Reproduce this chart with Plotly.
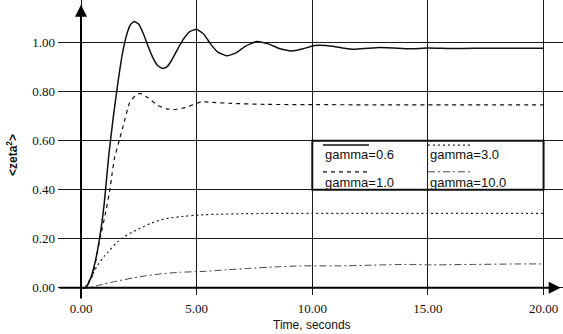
import plotly.graph_objects as go

# ---- data ----
t_g06 = [0.0, 0.2, 0.4, 0.6, 0.8, 1.0, 1.2, 1.4, 1.6, 1.8, 2.0, 2.15, 2.3, 2.5, 2.7, 2.9, 3.1, 3.3, 3.5,
         3.7, 3.9, 4.1, 4.4, 4.7, 5.0, 5.3, 5.6, 5.9, 6.3, 6.7, 7.1, 7.6, 8.1, 8.6, 9.1, 9.6, 10.1,
         10.6, 11.2, 11.8, 12.4, 12.9, 13.5, 14.2, 15.0, 16.0, 17.0, 18.0, 19.0, 20.0]
z_g06 = [0.0, 0.0, 0.035, 0.1, 0.2, 0.34, 0.54, 0.70, 0.84, 0.96, 1.04, 1.075, 1.086, 1.075, 1.035,
         0.985, 0.94, 0.908, 0.895, 0.9, 0.925, 0.96, 1.01, 1.045, 1.055, 1.035, 0.995, 0.962, 0.946,
         0.958, 0.985, 1.005, 0.995, 0.975, 0.966, 0.975, 0.988, 0.988, 0.98, 0.973, 0.977, 0.98,
         0.978, 0.975, 0.978, 0.976, 0.977, 0.977, 0.977, 0.977]

t_g10 = [0.0, 0.2, 0.5, 0.82, 1.05, 1.25, 1.35, 1.45, 1.65, 1.85, 2.1, 2.35, 2.55, 2.9, 3.3, 3.7, 4.0,
         4.5, 5.0, 5.2, 5.6, 6.5, 8.0, 10.0, 13.0, 16.0, 20.0]
z_g10 = [0.0, 0.0, 0.05, 0.2, 0.3, 0.4, 0.47, 0.53, 0.6, 0.67, 0.755, 0.784, 0.793, 0.775, 0.745, 0.73,
         0.727, 0.735, 0.752, 0.759, 0.757, 0.752, 0.748, 0.747, 0.746, 0.746, 0.746]

t_g30 = [0.0, 0.15, 0.4, 0.68, 1.0, 1.25, 1.5, 1.8, 2.2, 2.55, 3.0, 3.42, 3.8, 4.28, 5.15, 6.0, 7.0, 8.0,
         10.0, 12.0, 15.0, 20.0]
z_g30 = [0.0, 0.0, 0.035, 0.086, 0.128, 0.154, 0.18, 0.204, 0.226, 0.242, 0.262, 0.276, 0.284, 0.29,
         0.297, 0.3, 0.302, 0.303, 0.303, 0.303, 0.303, 0.303]

t_g100 = [0.0, 0.3, 0.82, 1.5, 2.55, 3.5, 4.28, 5.43, 6.3, 7.3, 8.4, 9.47, 11.2, 12.6, 14.1, 15.2, 17.0,
          19.0, 20.0]
z_g100 = [0.0, 0.0, 0.011, 0.026, 0.045, 0.057, 0.063, 0.067, 0.073, 0.079, 0.085, 0.089, 0.089, 0.092,
          0.095, 0.093, 0.095, 0.097, 0.097]

x_ticks = [0, 5, 10, 15, 20]
x_tick_text = ["0.00", "5.00", "10.00", "15.00", "20.00"]
y_ticks = [0.0, 0.2, 0.4, 0.6, 0.8, 1.0]
y_tick_text = ["0.00", "0.20", "0.40", "0.60", "0.80", "1.00"]
legend_names = ["gamma=0.6", "gamma=1.0", "gamma=3.0", "gamma=10.0"]

fig = go.Figure()
series = [
    (t_g06, z_g06, dict(color="#111", width=1.5, dash="solid")),
    (t_g10, z_g10, dict(color="#111", width=1.2, dash="4px,4px")),
    (t_g30, z_g30, dict(color="#222", width=1.2, dash="2px,3px")),
    (t_g100, z_g100, dict(color="#444", width=1.0, dash="7px,3px,2px,3px")),
]
for (tx, zy, ln), nm in zip(series, legend_names):
    fig.add_trace(go.Scatter(x=tx, y=zy, mode="lines", name=nm, showlegend=False,
                             line=dict(shape="spline", smoothing=0.4, **ln)))

grid_col = "#1a1a1a"
fig.update_layout(
    width=563, height=334,
    margin=dict(l=58, r=0, t=0, b=39),
    plot_bgcolor="white", paper_bgcolor="white",
    xaxis=dict(range=[-0.995, 20.84], tickvals=x_ticks, ticktext=x_tick_text,
               showgrid=True, gridcolor=grid_col, gridwidth=1, zeroline=False, showline=False,
               ticks="", ticklabelstandoff=4,
               tickfont=dict(family="Liberation Serif", size=13, color="#111")),
    yaxis=dict(range=[-0.0298, 1.174], tickvals=y_ticks, ticktext=y_tick_text,
               showgrid=True, gridcolor=grid_col, gridwidth=1, zeroline=False, showline=False,
               ticks="", ticklabelstandoff=2,
               tickfont=dict(family="Liberation Serif", size=13, color="#111")),
)

# legend box (grid cell) and samples
fig.add_shape(type="rect", x0=10, x1=20, y0=0.4, y1=0.6, xref="x", yref="y",
              line=dict(color="#111", width=2))
samples = [
    (10.46, 12.45, 0.582, series[0][2]),
    (10.46, 12.45, 0.473, series[1][2]),
    (15.0, 16.95, 0.582, series[2][2]),
    (15.0, 16.95, 0.473, series[3][2]),
]
text_pos = [(10.46, 0.542), (10.46, 0.43), (15.0, 0.542), (15.0, 0.43)]
for (x0, x1, yy, ln), (tx, ty), nm in zip(samples, text_pos, legend_names):
    fig.add_shape(type="line", x0=x0, x1=x1, y0=yy, y1=yy, xref="x", yref="y",
                  line=dict(color=ln["color"], width=ln["width"], dash=ln["dash"]))
    fig.add_annotation(x=tx, y=ty, xref="x", yref="y", text=nm, showarrow=False,
                       xanchor="left", yanchor="middle",
                       font=dict(family="Liberation Sans", size=13, color="#111"))

# axes with arrows
fig.add_annotation(x=0, y=1.155, ax=0, ay=-0.05, xref="x", yref="y", axref="x", ayref="y",
                   text="", showarrow=True, arrowhead=2, arrowsize=1.2, arrowwidth=2,
                   arrowcolor="#000")
fig.add_annotation(x=20.74, y=0, ax=-0.995, ay=0, xref="x", yref="y", axref="x", ayref="y",
                   text="", showarrow=True, arrowhead=2, arrowsize=1.2, arrowwidth=2,
                   arrowcolor="#000")

# axis titles
fig.add_annotation(x=10, y=-0.1, xref="x", yref="paper", text="Time, seconds", showarrow=False,
                   xanchor="center", yanchor="middle",
                   font=dict(family="Liberation Sans", size=12, color="#111"))
fig.add_annotation(x=-0.091, y=(295 - 155) / 295, xref="paper", yref="paper",
                   text="<b>&lt;zeta<sup>2</sup>&gt;</b>", showarrow=False, textangle=-90,
                   xanchor="center", yanchor="middle",
                   font=dict(family="Liberation Sans", size=12, color="#111"))

fig.write_html("out.html")
